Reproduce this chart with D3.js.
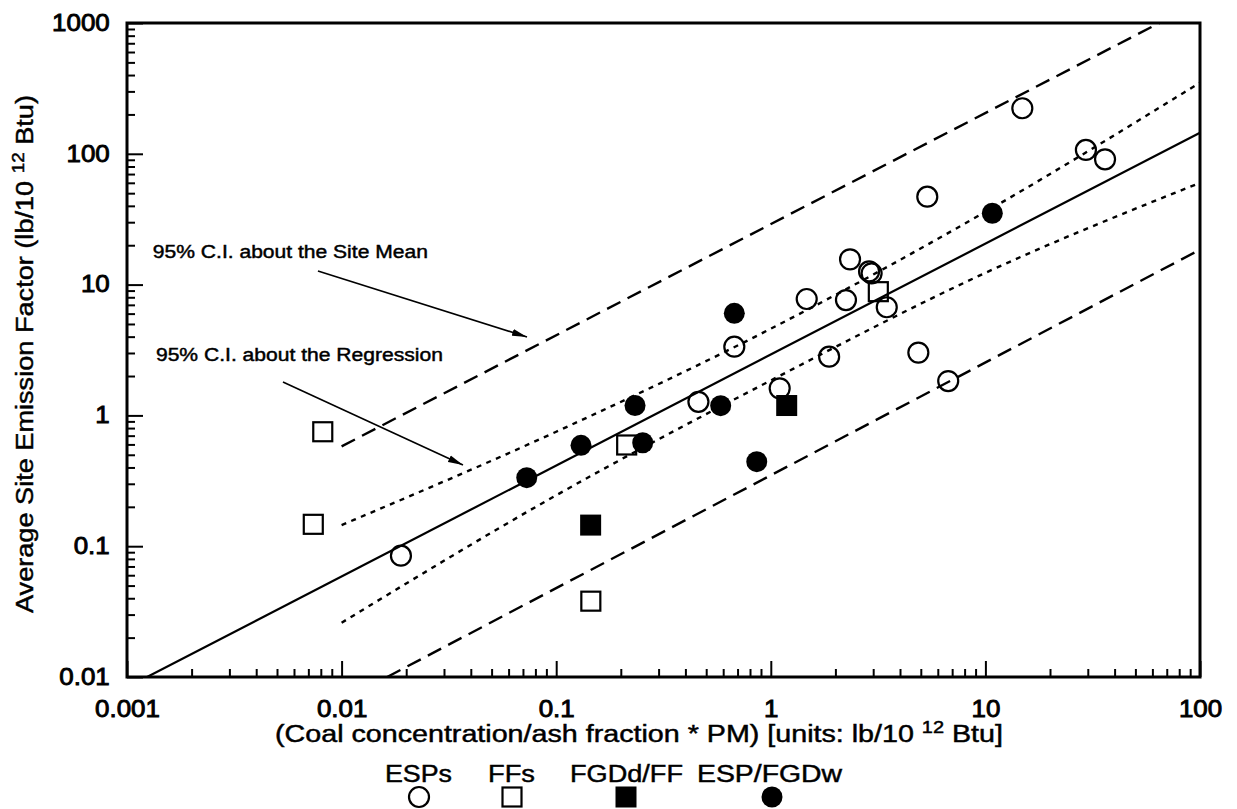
<!DOCTYPE html>
<html>
<head>
<meta charset="utf-8">
<script src="https://cdn.jsdelivr.net/npm/d3@7/dist/d3.min.js"></script>
<style>
  html, body { margin: 0; padding: 0; background: #fff; }
  svg { display: block; font-family: "Liberation Sans", Arial, Helvetica, sans-serif; }
  text { fill: #000; font-weight: normal; stroke: #000; stroke-width: 0.45px; }
  .tick text { stroke-width: 0.9px; }
</style>
</head>
<body>
<svg id="chart" width="1237" height="809"></svg>
<script>
// Axis tick values and labels
const xTickValues = [0.001, 0.01, 0.1, 1, 10, 100];
const xTickLabels = ["0.001", "0.01", "0.1", "1", "10", "100"];
const yTickValues = [0.01, 0.1, 1, 10, 100, 1000];
const yTickLabels = ["0.01", "0.1", "1", "10", "100", "1000"];

// Site observations [coal conc/ash fraction * PM, site emission factor]
const espPoints = [
  [0.0189, 0.0846], [0.46, 1.27], [0.676, 3.35], [1.10, 1.61], [1.47, 7.76],
  [1.87, 2.81], [2.24, 7.62], [2.34, 15.6], [2.87, 12.6], [2.95, 12.2],
  [3.47, 6.71], [4.87, 3.02], [6.71, 1.83], [5.36, 47.0], [14.86, 223],
  [29.4, 107], [36.1, 90.8]
];
const ffPoints = [[0.00817, 0.75], [0.00738, 0.147], [0.145, 0.038], [0.213, 0.594], [3.17, 8.83]];
const fgdFfPoints = [[0.1447, 0.145], [1.186, 1.19]];
const espFgdPoints = [
  [0.0729, 0.334], [0.1305, 0.59], [0.233, 1.19], [0.253, 0.618],
  [0.584, 1.187], [0.676, 6.03], [0.86, 0.443], [10.77, 35.1]
];

// Fitted regression and its confidence bands
const regressionLine = [[0.00124, 0.01], [100, 145]];
const regressionUpper = [[0.01, 0.145], [0.1, 0.75], [1, 4.6], [10, 36], [100, 350]];
const regressionLower = [[0.01, 0.026], [0.1, 0.245], [1, 1.85], [10, 12.3], [100, 60]];
const siteMeanUpper = [[0.01, 0.58], [100, 1450]];
const siteMeanLower = [[0.0163, 0.01], [100, 18.5]];

// Legend entries
const legendNames = ["ESPs", "FFs", "FGDd/FF", "ESP/FGDw"];

const svg = d3.select("#chart");
const W = 1237, H = 809;
svg.append("rect").attr("width", W).attr("height", H).attr("fill", "#fff");

const plot = { left: 127, right: 1200, top: 23, bottom: 677 };
const x = d3.scaleLog().domain([0.001, 100]).range([plot.left, plot.right]);
const y = d3.scaleLog().domain([0.01, 1000]).range([plot.bottom, plot.top]);

svg.append("defs").append("clipPath").attr("id", "plotClip")
  .append("rect")
  .attr("x", plot.left).attr("y", plot.top)
  .attr("width", plot.right - plot.left).attr("height", plot.bottom - plot.top);

svg.select("defs").append("marker")
  .attr("id", "arrowHead")
  .attr("markerUnits", "userSpaceOnUse")
  .attr("markerWidth", 16).attr("markerHeight", 8)
  .attr("refX", 15).attr("refY", 4)
  .attr("orient", "auto")
  .append("path").attr("d", "M0,0.5 L15,4 L0,7.5 Z").attr("fill", "#000");

// Minor and major ticks, pointing into the plot
const minorX = x.ticks().filter(v => !xTickValues.some(t => Math.abs(t - v) / t < 1e-9));
const minorY = y.ticks().filter(v => !yTickValues.some(t => Math.abs(t - v) / t < 1e-9));

svg.append("g").attr("transform", `translate(0,${plot.bottom})`)
  .call(d3.axisBottom(x).tickValues(minorX).tickSize(-8).tickFormat(""))
  .call(g => g.select(".domain").remove())
  .selectAll("line").attr("stroke-width", 2);

svg.append("g").attr("transform", `translate(${plot.left},0)`)
  .call(d3.axisLeft(y).tickValues(minorY).tickSize(-8).tickFormat(""))
  .call(g => g.select(".domain").remove())
  .selectAll("line").attr("stroke-width", 2);

const xAxis = svg.append("g").attr("transform", `translate(0,${plot.bottom})`)
  .call(d3.axisBottom(x).tickValues(xTickValues).tickSize(-16)
    .tickFormat((d, i) => xTickLabels[i]))
  .call(g => g.select(".domain").remove());
xAxis.selectAll("line").attr("stroke-width", 2);
xAxis.selectAll("text")
  .attr("y", 40).attr("dy", null)
  .attr("font-size", 24).attr("font-family", null)
  .attr("transform", "scale(1.08,1)");

const yAxis = svg.append("g").attr("transform", `translate(${plot.left},0)`)
  .call(d3.axisLeft(y).tickValues(yTickValues).tickSize(-16)
    .tickFormat((d, i) => yTickLabels[i]))
  .call(g => g.select(".domain").remove());
yAxis.selectAll("line").attr("stroke-width", 2);
yAxis.selectAll("text")
  .attr("x", -16).attr("dy", "0.3em")
  .attr("font-size", 24).attr("font-family", null)
  .attr("transform", "scale(1.08,1)");

// Plot frame
svg.append("rect")
  .attr("x", plot.left).attr("y", plot.top)
  .attr("width", plot.right - plot.left).attr("height", plot.bottom - plot.top)
  .attr("fill", "none").attr("stroke", "#000").attr("stroke-width", 3);

// Regression line and bands
const line = d3.line().x(d => x(d[0])).y(d => y(d[1])).curve(d3.curveMonotoneX);
const lines = svg.append("g").attr("clip-path", "url(#plotClip)")
  .attr("fill", "none").attr("stroke", "#000");

lines.append("path").datum(regressionLine).attr("d", line).attr("stroke-width", 2.2);
[regressionUpper, regressionLower].forEach(band => {
  lines.append("path").datum(band).attr("d", line)
    .attr("stroke-width", 2.4).attr("stroke-dasharray", "5,5.5");
});
[siteMeanUpper, siteMeanLower].forEach(band => {
  lines.append("path").datum(band).attr("d", line)
    .attr("stroke-width", 2.4).attr("stroke-dasharray", "15,8");
});

// Markers
const markers = svg.append("g");
function drawSymbol(g, type, cx, cy) {
  if (type === "openCircle") {
    g.append("circle").attr("cx", cx).attr("cy", cy).attr("r", 10)
      .attr("fill", "none").attr("stroke", "#000").attr("stroke-width", 2.2);
  } else if (type === "filledCircle") {
    g.append("circle").attr("cx", cx).attr("cy", cy).attr("r", 10.5).attr("fill", "#000");
  } else if (type === "openSquare") {
    g.append("rect").attr("x", cx - 9.5).attr("y", cy - 9.5).attr("width", 19).attr("height", 19)
      .attr("fill", "none").attr("stroke", "#000").attr("stroke-width", 2.2);
  } else {
    g.append("rect").attr("x", cx - 10.5).attr("y", cy - 10.5).attr("width", 21).attr("height", 21)
      .attr("fill", "#000");
  }
}
const seriesList = [
  { data: espPoints, type: "openCircle" },
  { data: ffPoints, type: "openSquare" },
  { data: fgdFfPoints, type: "filledSquare" },
  { data: espFgdPoints, type: "filledCircle" }
];
seriesList.forEach(s => s.data.forEach(d => drawSymbol(markers, s.type, x(d[0]), y(d[1]))));

// Annotations with arrows
function stretchedText(parent, str, px, py, size, width, anchor) {
  return parent.append("text")
    .attr("x", px).attr("y", py)
    .attr("font-size", size)
    .attr("text-anchor", anchor || "start")
    .attr("textLength", width)
    .attr("lengthAdjust", "spacingAndGlyphs")
    .text(str);
}
stretchedText(svg, "95% C.I. about the Site Mean", x(0.00132), y(15.96), 18, 275);
svg.append("line")
  .attr("x1", x(0.00776)).attr("y1", y(12.7))
  .attr("x2", x(0.0731)).attr("y2", y(3.98))
  .attr("stroke", "#000").attr("stroke-width", 1.6)
  .attr("marker-end", "url(#arrowHead)");

stretchedText(svg, "95% C.I. about the Regression", x(0.001364), y(2.61), 18, 287);
svg.append("line")
  .attr("x1", x(0.00533)).attr("y1", y(1.80))
  .attr("x2", x(0.03677)).attr("y2", y(0.418))
  .attr("stroke", "#000").attr("stroke-width", 1.6)
  .attr("marker-end", "url(#arrowHead)");

// Axis titles
const xTitle = svg.append("text")
  .attr("x", 275).attr("y", 742)
  .attr("font-size", 23)
  .attr("textLength", 728).attr("lengthAdjust", "spacingAndGlyphs");
xTitle.append("tspan").text("(Coal concentration/ash fraction * PM) [units: lb/10 ");
xTitle.append("tspan").attr("font-size", 16).attr("dy", -9).text("12");
xTitle.append("tspan").attr("dy", 9).text(" Btu]");

const yTitle = svg.append("text")
  .attr("transform", "translate(33,354) rotate(-90)")
  .attr("text-anchor", "middle")
  .attr("font-size", 23)
  .attr("textLength", 518).attr("lengthAdjust", "spacingAndGlyphs");
yTitle.append("tspan").text("Average Site Emission Factor (lb/10 ");
yTitle.append("tspan").attr("font-size", 16).attr("dy", -9).text("12");
yTitle.append("tspan").attr("dy", 9).text(" Btu)");

// Legend
const legendX = [419, 512, 626, 772];
const legendTextX = [418.5, 511.5, 626.5, 769.5];
const legendTextW = [67, 47, 113, 145];
const legendTypes = ["openCircle", "openSquare", "filledSquare", "filledCircle"];
const legend = svg.append("g");
legendNames.forEach((name, i) => {
  stretchedText(legend, name, legendTextX[i], 782, 23, legendTextW[i], "middle");
  drawSymbol(legend, legendTypes[i], legendX[i], 797);
});
</script>
</body>
</html>
